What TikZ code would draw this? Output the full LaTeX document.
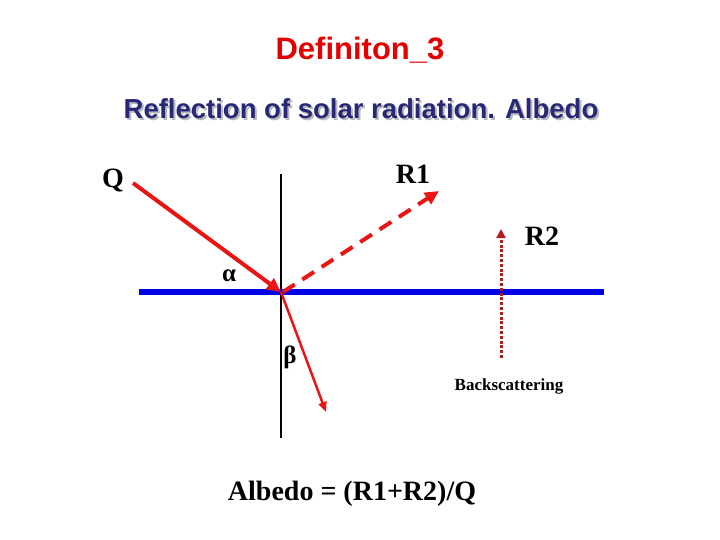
\documentclass[tikz,border=0pt]{standalone}
\usepackage{fontspec}
\setmainfont{Liberation Serif}
\setsansfont{Liberation Sans}
\usetikzlibrary{arrows.meta}
\definecolor{titlered}{RGB}{228,0,0}
\definecolor{navy}{RGB}{40,40,120}
\definecolor{lineblue}{RGB}{0,0,230}
\definecolor{rayred}{RGB}{235,20,20}
\definecolor{dotred}{RGB}{175,30,30}
\newcommand{\subtext}{Reflection of solar radiation. Albedo}
\tikzset{
  lbl/.style={font=\bfseries\fontsize{28}{30}\selectfont, inner sep=0pt},
  ray/.style={rayred, line width=4pt, -{Triangle[length=14pt,width=13pt]}},
}
\begin{document}
\begin{tikzpicture}[x=1pt,y=-1pt]
\useasboundingbox (0,0) rectangle (720,540);
% titles
\node[inner sep=0pt, text=titlered, font=\sffamily\bfseries\fontsize{31}{33}\selectfont] (title) at (360,50) {Definiton\_3};
\node[inner sep=0pt, font=\sffamily\bfseries\fontsize{27.5}{29}\selectfont] (subtitle) at (361,110)
  {\rlap{\hspace*{2pt}\raisebox{-2pt}{\textcolor{gray!55}{\subtext}}}\textcolor{navy}{\subtext}};
% geometry
\coordinate (O) at (281,292);
\coordinate (ntop) at (281,174);
\coordinate (nbot) at (281,438);
\coordinate (sl) at (139,292);
\coordinate (sr) at (604,292);
\draw[black, line width=1.6pt] (ntop) -- (nbot);
\draw[lineblue, line width=6pt] (sl) -- (sr);
% labels
\node[lbl] (Q) at (113,181) {Q};
\node[lbl] (R1) at (413,174) {R1};
\node[lbl] (R2) at (542,236) {R2};
\node[lbl, font=\bfseries\fontsize{25}{27}\selectfont] (alpha) at (229,276) {α};
\node[lbl, font=\bfseries\fontsize{25}{27}\selectfont] (beta) at (290,357) {β};
\node[inner sep=0pt, font=\bfseries\fontsize{17}{19}\selectfont] (back) at (509,386) {Backscattering};
\node[inner sep=0pt, font=\bfseries\fontsize{28}{30}\selectfont] (formula) at (352,494) {Albedo = (R1+R2)/Q};
% rays
\coordinate (qs) at (133,183);
\coordinate (r1e) at (439,191);
\coordinate (be) at (326,412);
\coordinate (r2s) at (501,358);
\coordinate (r2e) at (501,229);
\draw[ray] (qs) -- (O);
\draw[rayred, line width=4pt, dash pattern=on 14pt off 9pt, -{Triangle[length=14pt,width=13pt]}] ([xshift=2pt]O) -- (r1e);
\draw[rayred, line width=2.5pt, -{Triangle[length=10pt,width=8pt]}] (O) -- (be);
\draw[dotred, line width=3pt, dash pattern=on 3pt off 1.8pt, -{Triangle[length=9pt,width=9pt]}] (r2s) -- (r2e);
\end{tikzpicture}
\end{document}
